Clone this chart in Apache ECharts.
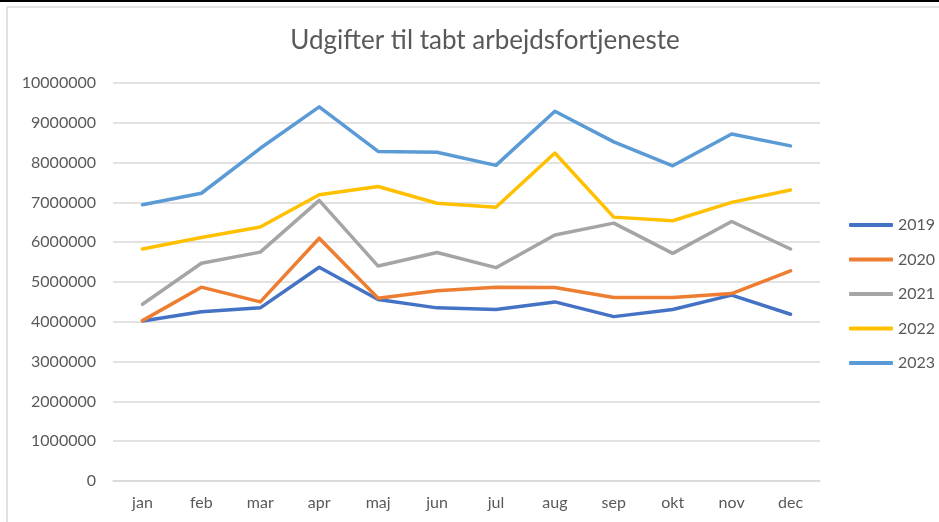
<!DOCTYPE html>
<html>
<head>
    <meta charset="utf-8">
    <title>Udgifter til tabt arbejdsfortjeneste</title>
    <script src="https://cdn.jsdelivr.net/npm/echarts@6/dist/echarts.min.js"></script>
    <style>
        html, body { margin: 0; padding: 0; background: #fff; }
    </style>
</head>
<body>
    <div id="chart" style="width: 939px; height: 522px;"></div>

    <script>
        // months
        var months = ['jan', 'feb', 'mar', 'apr', 'maj', 'jun', 'jul', 'aug', 'sep', 'okt', 'nov', 'dec'];

        // yearly series
        var years = ['2019', '2020', '2021', '2022', '2023'];
        var v2019 = [4020000, 4250000, 4350000, 5370000, 4560000, 4350000, 4310000, 4500000, 4130000, 4310000, 4670000, 4190000];
        var v2020 = [4030000, 4870000, 4500000, 6100000, 4590000, 4780000, 4870000, 4860000, 4610000, 4610000, 4710000, 5280000];
        var v2021 = [4440000, 5470000, 5750000, 7050000, 5400000, 5740000, 5360000, 6180000, 6480000, 5720000, 6520000, 5830000];
        var v2022 = [5830000, 6120000, 6380000, 7190000, 7400000, 6980000, 6880000, 8240000, 6630000, 6540000, 7000000, 7310000];
        var v2023 = [6940000, 7230000, 8360000, 9400000, 8280000, 8260000, 7930000, 9290000, 8520000, 7920000, 8720000, 8420000];

        var colors = ['#4472C4', '#ED7D31', '#A5A5A5', '#FFC000', '#5B9BD5'];
        var values = [v2019, v2020, v2021, v2022, v2023];

        var textGray = '#595959';
        var font = 'Lato, "Open Sans", sans-serif';

        var chart = echarts.init(document.getElementById('chart'));

        chart.setOption({
            animation: false,
            color: colors,
            title: {
                text: 'Udgifter til tabt arbejdsfortjeneste',
                left: 480,
                textAlign: 'center',
                top: 23,
                textStyle: { fontFamily: font, fontSize: 26, fontWeight: 'normal', color: textGray }
            },
            legend: {
                orient: 'vertical',
                left: 844,
                top: 210,
                icon: 'roundRect',
                itemWidth: 44,
                itemHeight: 4,
                itemGap: 14.5,
                data: years,
                textStyle: { fontFamily: font, fontSize: 16, lineHeight: 20, color: textGray }
            },
            grid: { left: 113, right: 119, top: 83, bottom: 41, containLabel: false },
            xAxis: {
                type: 'category',
                data: months,
                axisLine: { lineStyle: { color: '#d9d9d9', width: 1.5 } },
                axisTick: { show: false },
                axisLabel: { margin: 14, fontFamily: font, fontSize: 16, color: textGray }
            },
            yAxis: {
                type: 'value',
                min: 0,
                max: 10000000,
                interval: 1000000,
                axisLine: { show: false },
                axisTick: { show: false },
                axisLabel: {
                    margin: 17,
                    fontFamily: font,
                    fontSize: 16,
                    color: textGray,
                    formatter: function (v) { return String(v); }
                },
                splitLine: { lineStyle: { color: '#d9d9d9', width: 1.5 } }
            },
            graphic: [
                { type: 'rect', shape: { x: 0, y: 0, width: 939, height: 2 }, style: { fill: '#000' } },
                { type: 'line', shape: { x1: 7, y1: 7, x2: 939, y2: 7 }, style: { stroke: '#d9d9d9', lineWidth: 1.5 } },
                { type: 'line', shape: { x1: 7, y1: 7, x2: 7, y2: 522 }, style: { stroke: '#d9d9d9', lineWidth: 1.5 } }
            ],
            series: years.map(function (y, i) {
                return {
                    name: y,
                    type: 'line',
                    data: values[i],
                    showSymbol: false,
                    symbol: 'none',
                    lineStyle: { width: 3.5, color: colors[i], cap: 'round', join: 'round' }
                };
            })
        });
    </script>
</body>
</html>
